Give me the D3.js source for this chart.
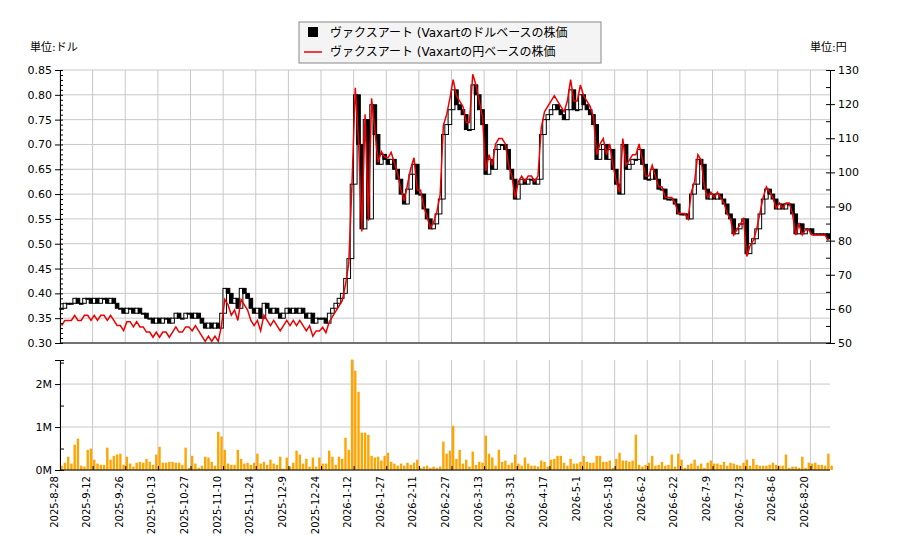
<!DOCTYPE html>
<html><head><meta charset="utf-8">
<script src="https://cdn.jsdelivr.net/npm/d3@7"></script>
<style>body{margin:0;background:#fff;font-family:"DejaVu Sans","Noto Sans CJK JP",sans-serif;}</style>
</head><body><svg id="c" width="900" height="550"></svg>
<script>
const tickLabels = ['2025-8-28','2025-9-12','2025-9-26','2025-10-13','2025-10-27','2025-11-10','2025-11-24','2025-12-9','2025-12-24','2026-1-12','2026-1-27','2026-2-11','2026-2-27','2026-3-13','2026-3-31','2026-4-17','2026-5-1','2026-5-18','2026-6-2','2026-6-22','2026-7-9','2026-7-23','2026-8-6','2026-8-20'];

// USD close per trading day
const closeUsd = [
.37,.38,.38,.38,.39,.38,.38,.39,.39,.38, .39,.38,.39,.39,.38,.39,.38,.37,.37,.36,
.37,.37,.36,.37,.36,.36,.35,.35,.34,.35, .34,.35,.35,.34,.35,.36,.35,.35,.36,.36,
.35,.36,.35,.34,.33,.34,.33,.34,.33,.36, .41,.40,.38,.39,.37,.41,.40,.39,.37,.36,
.37,.35,.38,.37,.36,.37,.36,.35,.36,.37, .36,.37,.36,.37,.36,.35,.36,.34,.35,.35,
.35,.34,.36,.37,.38,.39,.40,.43,.47,.62, .80,.70,.53,.75,.55,.78,.72,.66,.68,.67,
.66,.67,.65,.63,.60,.58,.61,.64,.66,.60, .60,.57,.55,.53,.54,.56,.59,.72,.74,.77,
.81,.78,.77,.76,.73,.73,.82,.80,.77,.74, .64,.67,.65,.69,.70,.70,.69,.65,.63,.59,
.62,.63,.62,.63,.63,.62,.63,.72,.75,.76, .77,.78,.77,.76,.75,.77,.81,.77,.77,.80,
.78,.77,.76,.74,.67,.69,.70,.67,.69,.65, .62,.60,.70,.65,.66,.67,.67,.69,.66,.63,
.63,.65,.63,.61,.61,.59,.59,.59,.58,.56, .56,.56,.55,.60,.62,.67,.66,.61,.59,.60,
.59,.60,.59,.58,.56,.55,.52,.53,.54,.55, .48,.50,.51,.53,.56,.59,.61,.60,.59,.57,
.58,.57,.58,.58,.56,.52,.54,.52,.53,.53, .52,.52,.52,.52,.52,.51];

// USD/JPY rate, one value per 20 trading days
const usdJpy = [149,152,153,153,156,158,157,157,157,157,157,157];

// volume in thousands of shares
const volumeK = [
100,170,310,150,590,730,100,80,470,500,240,150,120,120,520,240,330,360,380,120,
310,150,80,170,190,170,260,190,120,360,540,170,170,190,190,170,170,120,520,50,
330,150,50,100,310,290,190,100,890,780,470,150,120,120,470,260,150,170,120,170,
380,150,190,120,240,150,120,310,30,290,80,170,450,360,150,260,80,290,80,290,
150,150,450,310,120,310,260,750,470,2570,2310,1820,870,870,820,330,290,310,220,330,
400,190,150,100,150,100,170,120,170,240,50,80,100,50,80,50,80,660,380,450,
1030,260,470,150,240,80,430,120,190,170,800,380,290,100,470,190,220,120,170,360,
150,100,290,150,100,100,80,220,190,80,240,260,330,330,170,100,260,150,150,190,
330,190,170,170,330,330,190,190,220,50,260,400,220,220,190,220,820,120,80,120,
170,330,100,120,190,100,120,360,80,380,240,50,120,150,240,100,150,50,170,220,
150,150,120,190,100,170,150,120,100,170,240,100,260,120,100,100,100,120,170,120,
100,100,360,50,80,80,50,310,50,170,150,170,120,120,100,380,100];

const svg = d3.select('#c');
const L = 60, R = 830, T = 70, B = 343, VT = 360, VB = 470;
const n = closeUsd.length;

const x = d3.scaleLinear().domain([0, n]).range([L, R]);
const cx = i => x(i + 0.5);
const yL = d3.scaleLinear().domain([0.30, 0.85]).range([B, T]);
const yR = d3.scaleLinear().domain([50, 130]).range([B, T]);
const yV = d3.scaleLinear().domain([0, 2560]).range([VB, VT]);

const grid = '#c8c8c8';
const gTop = svg.append('g');
d3.range(0.30, 0.851, 0.05).forEach(v => gTop.append('line').attr('x1', L).attr('x2', R)
	.attr('y1', yL(v)).attr('y2', yL(v)).attr('stroke', grid));
tickLabels.forEach((t, k) => {
	gTop.append('line').attr('x1', x(k * 10)).attr('x2', x(k * 10)).attr('y1', T).attr('y2', B).attr('stroke', grid);
	gTop.append('line').attr('x1', x(k * 10)).attr('x2', x(k * 10)).attr('y1', VT).attr('y2', VB).attr('stroke', grid);
});
[0, 1000, 2000].forEach(v => svg.append('line').attr('x1', L).attr('x2', R)
	.attr('y1', yV(v)).attr('y2', yV(v)).attr('stroke', grid));

// candles
const candles = svg.append('g');
closeUsd.forEach((c, i) => {
	const o = i ? closeUsd[i - 1] : c;
	const up = c >= o;
	const top = yL(Math.max(o, c)), bot = yL(Math.min(o, c));
	candles.append('rect').attr('x', cx(i) - 1.8).attr('width', 3.6)
		.attr('y', top).attr('height', Math.max(bot - top, 1))
		.attr('fill', up ? '#fff' : '#000').attr('stroke', '#000').attr('stroke-width', 1);
});

// yen line
const yen = closeUsd.map((c, i) => c * usdJpy[Math.min(Math.floor(i / 20), usdJpy.length - 1)]);
svg.append('path').datum(yen)
	.attr('d', d3.line().x((d, i) => cx(i)).y(d => yR(d)))
	.attr('fill', 'none').attr('stroke', '#e00').attr('stroke-width', 1.5);

// volume
svg.append('g').selectAll('rect').data(volumeK).join('rect')
	.attr('x', (d, i) => cx(i) - 1.2).attr('width', 2.4)
	.attr('y', d => yV(d)).attr('height', d => VB - yV(d)).attr('fill', '#ffa500');

// axes
const font = g => g.selectAll('text').attr('font-family', 'DejaVu Sans').attr('font-size', 11).attr('fill', '#000');
svg.append('g').attr('transform', `translate(${L},0)`)
	.call(d3.axisLeft(yL).tickValues(d3.range(0.30, 0.851, 0.05)).tickFormat(d3.format('.2f')).tickSize(5))
	.call(font).call(g => g.select('.domain').remove());
svg.append('g').attr('transform', `translate(${L},0)`)
	.call(d3.axisLeft(yL).tickValues(d3.range(0.30, 0.851, 0.01)).tickFormat('').tickSize(-3));
svg.append('g').attr('transform', `translate(${R},0)`)
	.call(d3.axisRight(yR).tickValues(d3.range(50, 131, 10)).tickSize(5)).call(font)
	.call(g => g.select('.domain').remove());
svg.append('g').attr('transform', `translate(${R},0)`)
	.call(d3.axisRight(yR).tickValues(d3.range(50, 131, 5)).tickFormat('').tickSize(-4));
svg.append('g').attr('transform', `translate(${L},0)`)
	.call(d3.axisLeft(yV).tickValues([0, 1000, 2000]).tickFormat(d => d / 1000 + 'M').tickSize(5)).call(font);
svg.append('g').attr('transform', `translate(${L},0)`)
	.call(d3.axisLeft(yV).tickValues([500, 1500, 2500]).tickFormat('').tickSize(-4));
svg.append('line').attr('x1', L).attr('x2', R).attr('y1', B).attr('y2', B).attr('stroke', '#000');
svg.append('line').attr('x1', L).attr('x2', R).attr('y1', VB).attr('y2', VB).attr('stroke', '#000');
svg.append('g').attr('transform', `translate(0,${VB})`)
	.call(d3.axisBottom(x).tickValues(tickLabels.map((t, k) => k * 10)).tickFormat((d, k) => tickLabels[k]).tickSize(-4))
	.call(g => g.select('.domain').remove())
	.call(g => g.selectAll('text').attr('font-family', 'DejaVu Sans').attr('font-size', 10).attr('fill', '#000')
		.attr('transform', 'rotate(-90)').attr('text-anchor', 'end').attr('dx', '-6px').attr('dy', '-0.3em').attr('x', 0).attr('y', 0));

svg.append('text').attr('x', 30).attr('y', 51).attr('font-size', 11).text('単位:ドル');
svg.append('text').attr('x', 810).attr('y', 51).attr('font-size', 11).text('単位:円');

const lg = svg.append('g');
lg.append('rect').attr('x', 299).attr('y', 22).attr('width', 302).attr('height', 41)
	.attr('fill', '#f4f4f4').attr('stroke', '#888');
lg.append('rect').attr('x', 308).attr('y', 27).attr('width', 10).attr('height', 10).attr('fill', '#000');
lg.append('line').attr('x1', 304).attr('x2', 322).attr('y1', 52).attr('y2', 52).attr('stroke', '#e00').attr('stroke-width', 1.5);
lg.append('text').attr('x', 330).attr('y', 37).attr('font-size', 12).text('ヴァクスアート (Vaxartのドルベースの株価');
lg.append('text').attr('x', 330).attr('y', 56).attr('font-size', 12).text('ヴァクスアート (Vaxartの円ベースの株価');
</script></body></html>
